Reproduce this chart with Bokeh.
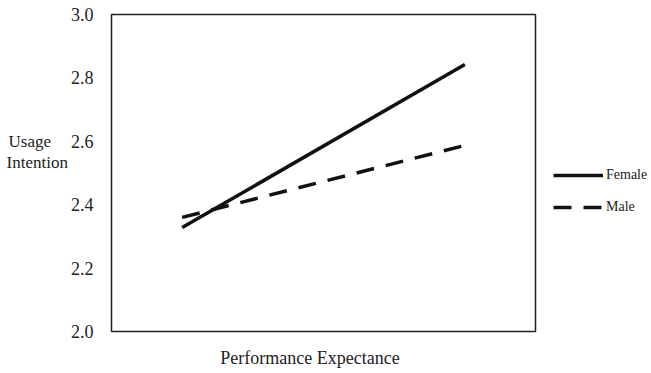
from bokeh.plotting import figure
from bokeh.models import Legend, LegendItem, FixedTicker, Range1d, PrintfTickFormatter
from bokeh.embed import file_html
from bokeh.resources import INLINE

# Data
levels = [1, 5]  # low / high performance expectance
female = [2.328, 2.842]
male = [2.36, 2.587]
y_ticks = [2.0, 2.2, 2.4, 2.6, 2.8, 3.0]
series_names = ["Female", "Male"]
x_title = "Performance Expectance"
y_title_lines = ["Usage", "Intention"]

FONT = "'Liberation Serif', 'Times New Roman', serif"
TXT = "#222222"
NB = "\u00a0"

p = figure(width=643, height=365, output_backend="svg", toolbar_location=None,
           x_range=Range1d(0, 6), y_range=Range1d(2.0, 3.0),
           frame_width=424, frame_height=317,
           min_border_left=111, min_border_top=14, min_border_right=108, min_border_bottom=34)

p.xgrid.visible = False
p.ygrid.visible = False
p.outline_line_color = "#222222"
p.outline_line_width = 1.5

xa = p.xaxis[0]
xa.ticker = FixedTicker(ticks=[])
xa.axis_line_color = None
xa.major_tick_line_color = None
xa.minor_tick_line_color = None
xa.major_tick_out = 0
xa.major_tick_in = 0
xa.major_label_text_font_size = "0px"
xa.axis_label = x_title + NB * 6
xa.axis_label_text_font = FONT
xa.axis_label_text_font_size = "18px"
xa.axis_label_text_font_style = "normal"
xa.axis_label_text_color = TXT
xa.axis_label_standoff = 16

ya = p.yaxis[0]
ya.ticker = FixedTicker(ticks=y_ticks)
ya.formatter = PrintfTickFormatter(format="%.1f")
ya.axis_line_color = None
ya.major_tick_line_color = None
ya.minor_tick_line_color = None
ya.major_tick_out = 0
ya.major_tick_in = 0
ya.major_label_text_font = FONT
ya.major_label_text_font_size = "18px"
ya.major_label_text_color = TXT
ya.major_label_standoff = 18
ya.axis_label = "\n".join([y_title_lines[0] + NB * 4, y_title_lines[1], NB, NB])
ya.axis_label_orientation = "horizontal"
ya.axis_label_text_font = FONT
ya.axis_label_text_font_size = "17px"
ya.axis_label_text_line_height = 1.1
ya.axis_label_text_font_style = "normal"
ya.axis_label_text_color = TXT
ya.axis_label_standoff = 0

r_f = p.line(levels, female, line_color="#111111", line_width=3.5)
r_m = p.line(levels, male, line_color="#111111", line_width=3.5, line_dash="18 12")

legend = Legend(items=[LegendItem(label=series_names[0], renderers=[r_f]),
                       LegendItem(label=series_names[1], renderers=[r_m])],
                location=(18, 114), padding=0, margin=0, spacing=12,
                glyph_width=50, glyph_height=20, label_height=20,
                label_standoff=3, border_line_color=None, background_fill_alpha=0,
                label_text_font=FONT, label_text_font_size="14px",
                label_text_color=TXT)
p.add_layout(legend, "right")

open("out.html", "w").write(file_html(p, INLINE))
